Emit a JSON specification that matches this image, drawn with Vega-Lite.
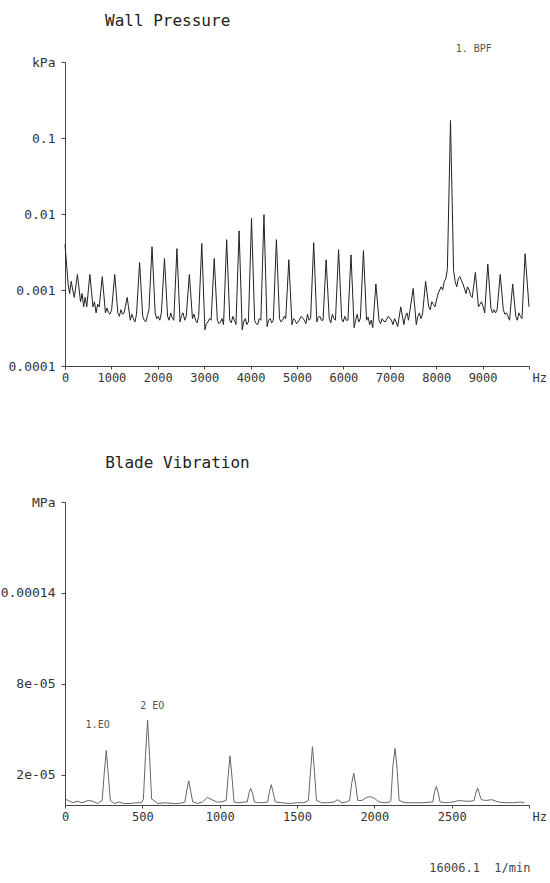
{
  "$schema": "https://vega.github.io/schema/vega-lite/v6.json",
  "padding": {"left": 0, "top": 12, "right": 0, "bottom": 0},
  "spacing": 72,
  "config": {
    "view": {"stroke": null},
    "font": "DejaVu Sans Mono",
    "axis": {
      "grid": false,
      "domainColor": "#444",
      "tickColor": "#444",
      "labelFont": "DejaVu Sans Mono",
      "labelFontSize": 12,
      "labelColor": "#333",
      "tickSize": 4,
      "labelPadding": 3,
      "labelOverlap": false,
      "labelFlush": false
    },
    "title": {"font": "DejaVu Sans Mono", "fontSize": 16, "fontWeight": "normal", "anchor": "start", "color": "#222"}
  },
  "datasets": {
    "wall": [
      {"f": 0, "p": 0.004}, {"f": 67, "p": 0.0012}, {"f": 100, "p": 0.0009}, {"f": 134, "p": 0.0013}, {"f": 167, "p": 0.001}, {"f": 201, "p": 0.0008},
      {"f": 268, "p": 0.0016}, {"f": 335, "p": 0.0007}, {"f": 368, "p": 0.0009}, {"f": 402, "p": 0.0006}, {"f": 435, "p": 0.0008}, {"f": 469, "p": 0.0006},
      {"f": 536, "p": 0.0016}, {"f": 603, "p": 0.0006}, {"f": 636, "p": 0.0007}, {"f": 670, "p": 0.0005}, {"f": 703, "p": 0.00065}, {"f": 737, "p": 0.0006},
      {"f": 804, "p": 0.0015}, {"f": 871, "p": 0.0005}, {"f": 904, "p": 0.00058}, {"f": 938, "p": 0.0005}, {"f": 971, "p": 0.00048}, {"f": 1005, "p": 0.00055},
      {"f": 1072, "p": 0.0016}, {"f": 1139, "p": 0.0005}, {"f": 1172, "p": 0.00045}, {"f": 1206, "p": 0.00055}, {"f": 1239, "p": 0.00048}, {"f": 1273, "p": 0.0005},
      {"f": 1340, "p": 0.0008}, {"f": 1407, "p": 0.0004}, {"f": 1440, "p": 0.00048}, {"f": 1474, "p": 0.00042}, {"f": 1507, "p": 0.00038}, {"f": 1541, "p": 0.00048},
      {"f": 1608, "p": 0.0023}, {"f": 1675, "p": 0.00045}, {"f": 1708, "p": 0.0004}, {"f": 1742, "p": 0.00038}, {"f": 1775, "p": 0.00046}, {"f": 1809, "p": 0.00055},
      {"f": 1876, "p": 0.0037}, {"f": 1943, "p": 0.0005}, {"f": 1976, "p": 0.00042}, {"f": 2010, "p": 0.00045}, {"f": 2043, "p": 0.0004}, {"f": 2077, "p": 0.0005},
      {"f": 2144, "p": 0.0026}, {"f": 2211, "p": 0.00045}, {"f": 2244, "p": 0.0004}, {"f": 2278, "p": 0.0005}, {"f": 2311, "p": 0.00043}, {"f": 2345, "p": 0.0004},
      {"f": 2412, "p": 0.0035}, {"f": 2479, "p": 0.00038}, {"f": 2512, "p": 0.00046}, {"f": 2546, "p": 0.0005}, {"f": 2579, "p": 0.0004}, {"f": 2613, "p": 0.00045},
      {"f": 2680, "p": 0.0016}, {"f": 2747, "p": 0.00042}, {"f": 2780, "p": 0.00048}, {"f": 2814, "p": 0.0004}, {"f": 2847, "p": 0.00037}, {"f": 2881, "p": 0.00045},
      {"f": 2948, "p": 0.0041}, {"f": 3015, "p": 0.0003}, {"f": 3048, "p": 0.00036}, {"f": 3082, "p": 0.00038}, {"f": 3115, "p": 0.00042}, {"f": 3149, "p": 0.0004},
      {"f": 3216, "p": 0.0026}, {"f": 3283, "p": 0.0004}, {"f": 3316, "p": 0.00036}, {"f": 3350, "p": 0.00038}, {"f": 3383, "p": 0.00042}, {"f": 3417, "p": 0.00035},
      {"f": 3484, "p": 0.0046}, {"f": 3551, "p": 0.0004}, {"f": 3584, "p": 0.00037}, {"f": 3618, "p": 0.00045}, {"f": 3651, "p": 0.0004}, {"f": 3685, "p": 0.00035},
      {"f": 3752, "p": 0.006}, {"f": 3819, "p": 0.0003}, {"f": 3852, "p": 0.00038}, {"f": 3886, "p": 0.00042}, {"f": 3919, "p": 0.00035}, {"f": 3953, "p": 0.00038},
      {"f": 4020, "p": 0.0088}, {"f": 4087, "p": 0.0004}, {"f": 4120, "p": 0.00036}, {"f": 4154, "p": 0.00035}, {"f": 4187, "p": 0.00042}, {"f": 4221, "p": 0.0004},
      {"f": 4288, "p": 0.0098}, {"f": 4355, "p": 0.00033}, {"f": 4388, "p": 0.0004}, {"f": 4422, "p": 0.00042}, {"f": 4455, "p": 0.00037}, {"f": 4489, "p": 0.0004},
      {"f": 4556, "p": 0.0046}, {"f": 4623, "p": 0.00042}, {"f": 4656, "p": 0.00038}, {"f": 4690, "p": 0.0004}, {"f": 4723, "p": 0.00045}, {"f": 4757, "p": 0.00042},
      {"f": 4824, "p": 0.0025}, {"f": 4891, "p": 0.00035}, {"f": 4924, "p": 0.00042}, {"f": 4958, "p": 0.0004}, {"f": 4991, "p": 0.00036}, {"f": 5025, "p": 0.00038},
      {"f": 5092, "p": 0.00045}, {"f": 5159, "p": 0.0004}, {"f": 5192, "p": 0.00036}, {"f": 5226, "p": 0.00048}, {"f": 5259, "p": 0.0004}, {"f": 5293, "p": 0.00042},
      {"f": 5360, "p": 0.0042}, {"f": 5427, "p": 0.00038}, {"f": 5460, "p": 0.00044}, {"f": 5494, "p": 0.00045}, {"f": 5527, "p": 0.0004}, {"f": 5561, "p": 0.0004},
      {"f": 5628, "p": 0.0025}, {"f": 5695, "p": 0.00042}, {"f": 5728, "p": 0.00037}, {"f": 5762, "p": 0.00048}, {"f": 5795, "p": 0.00042}, {"f": 5829, "p": 0.0004},
      {"f": 5896, "p": 0.0034}, {"f": 5963, "p": 0.00042}, {"f": 5996, "p": 0.00038}, {"f": 6030, "p": 0.00045}, {"f": 6063, "p": 0.0004}, {"f": 6097, "p": 0.0004},
      {"f": 6164, "p": 0.0029}, {"f": 6231, "p": 0.00032}, {"f": 6264, "p": 0.0004}, {"f": 6298, "p": 0.00048}, {"f": 6331, "p": 0.00038}, {"f": 6365, "p": 0.00042},
      {"f": 6432, "p": 0.0033}, {"f": 6499, "p": 0.0004}, {"f": 6532, "p": 0.00044}, {"f": 6566, "p": 0.00035}, {"f": 6599, "p": 0.0004}, {"f": 6633, "p": 0.00032},
      {"f": 6700, "p": 0.0012}, {"f": 6767, "p": 0.0004}, {"f": 6800, "p": 0.00036}, {"f": 6834, "p": 0.00042}, {"f": 6867, "p": 0.00039}, {"f": 6901, "p": 0.00038},
      {"f": 6968, "p": 0.00045}, {"f": 7035, "p": 0.0004}, {"f": 7068, "p": 0.00035}, {"f": 7102, "p": 0.00042}, {"f": 7135, "p": 0.00038}, {"f": 7169, "p": 0.00033},
      {"f": 7236, "p": 0.0006}, {"f": 7303, "p": 0.00035}, {"f": 7336, "p": 0.00045}, {"f": 7370, "p": 0.0005}, {"f": 7403, "p": 0.0004}, {"f": 7437, "p": 0.00055},
      {"f": 7504, "p": 0.00105}, {"f": 7571, "p": 0.00035}, {"f": 7604, "p": 0.00045}, {"f": 7638, "p": 0.0005}, {"f": 7671, "p": 0.00042}, {"f": 7705, "p": 0.00048},
      {"f": 7772, "p": 0.0013}, {"f": 7839, "p": 0.0006}, {"f": 7872, "p": 0.00055}, {"f": 7906, "p": 0.0007}, {"f": 7939, "p": 0.00065}, {"f": 7973, "p": 0.0006},
      {"f": 8040, "p": 0.0009}, {"f": 8107, "p": 0.0011}, {"f": 8140, "p": 0.001}, {"f": 8174, "p": 0.0013}, {"f": 8207, "p": 0.0014}, {"f": 8241, "p": 0.0019},
      {"f": 8308, "p": 0.17}, {"f": 8375, "p": 0.0018}, {"f": 8408, "p": 0.0013}, {"f": 8442, "p": 0.0011}, {"f": 8475, "p": 0.0014}, {"f": 8509, "p": 0.0015},
      {"f": 8576, "p": 0.0012}, {"f": 8643, "p": 0.0009}, {"f": 8676, "p": 0.0011}, {"f": 8710, "p": 0.001}, {"f": 8743, "p": 0.00085}, {"f": 8777, "p": 0.0008},
      {"f": 8844, "p": 0.0017}, {"f": 8911, "p": 0.0006}, {"f": 8944, "p": 0.00065}, {"f": 8978, "p": 0.0007}, {"f": 9011, "p": 0.0006}, {"f": 9045, "p": 0.0005},
      {"f": 9112, "p": 0.0022}, {"f": 9179, "p": 0.00058}, {"f": 9212, "p": 0.0005}, {"f": 9246, "p": 0.00055}, {"f": 9279, "p": 0.0005}, {"f": 9313, "p": 0.00055},
      {"f": 9380, "p": 0.0016}, {"f": 9447, "p": 0.00055}, {"f": 9480, "p": 0.00048}, {"f": 9514, "p": 0.0005}, {"f": 9547, "p": 0.00045}, {"f": 9581, "p": 0.0004},
      {"f": 9648, "p": 0.0012}, {"f": 9715, "p": 0.00045}, {"f": 9748, "p": 0.0004}, {"f": 9782, "p": 0.0005}, {"f": 9815, "p": 0.00045}, {"f": 9849, "p": 0.00042},
      {"f": 9916, "p": 0.003}, {"f": 10000, "p": 0.0006}
    ],
    "blade": [
      {"f": 0, "p": 0.000004}, {"f": 20, "p": 0.000003}, {"f": 50, "p": 0.0000015}, {"f": 80, "p": 0.0000025},
      {"f": 110, "p": 0.0000015}, {"f": 150, "p": 0.000003}, {"f": 180, "p": 0.0000025}, {"f": 210, "p": 0.000001},
      {"f": 240, "p": 0.000003}, {"f": 253, "p": 0.00002}, {"f": 267, "p": 0.000036}, {"f": 280, "p": 0.00002}, {"f": 293, "p": 0.000003},
      {"f": 320, "p": 0.000001}, {"f": 350, "p": 0.000002}, {"f": 380, "p": 0.000001}, {"f": 420, "p": 0.000001},
      {"f": 460, "p": 0.0000015}, {"f": 495, "p": 0.0000015},
      {"f": 507, "p": 0.000004}, {"f": 520, "p": 0.000032}, {"f": 534, "p": 0.000056}, {"f": 547, "p": 0.000032}, {"f": 560, "p": 0.000004},
      {"f": 600, "p": 0.000001}, {"f": 650, "p": 0.0000015}, {"f": 700, "p": 0.000001}, {"f": 740, "p": 0.000001},
      {"f": 775, "p": 0.000002}, {"f": 788, "p": 0.00001}, {"f": 800, "p": 0.000016}, {"f": 813, "p": 0.000009}, {"f": 826, "p": 0.000002},
      {"f": 860, "p": 0.000001}, {"f": 890, "p": 0.000002}, {"f": 920, "p": 0.000005}, {"f": 950, "p": 0.0000035},
      {"f": 980, "p": 0.000002}, {"f": 1010, "p": 0.000002},
      {"f": 1042, "p": 0.000003}, {"f": 1054, "p": 0.000018}, {"f": 1067, "p": 0.0000325}, {"f": 1080, "p": 0.000018}, {"f": 1093, "p": 0.000002},
      {"f": 1120, "p": 0.0000015}, {"f": 1160, "p": 0.000002},
      {"f": 1178, "p": 0.000002}, {"f": 1190, "p": 0.000008}, {"f": 1200, "p": 0.000011}, {"f": 1212, "p": 0.000008}, {"f": 1225, "p": 0.000002},
      {"f": 1250, "p": 0.0000015}, {"f": 1280, "p": 0.0000015},
      {"f": 1310, "p": 0.000002}, {"f": 1322, "p": 0.000009}, {"f": 1334, "p": 0.0000134}, {"f": 1346, "p": 0.000008}, {"f": 1360, "p": 0.000002},
      {"f": 1400, "p": 0.0000015}, {"f": 1450, "p": 0.000001}, {"f": 1500, "p": 0.0000015}, {"f": 1545, "p": 0.0000015},
      {"f": 1574, "p": 0.000003}, {"f": 1587, "p": 0.000022}, {"f": 1600, "p": 0.0000385}, {"f": 1613, "p": 0.000022}, {"f": 1626, "p": 0.000003},
      {"f": 1660, "p": 0.0000015}, {"f": 1700, "p": 0.0000015}, {"f": 1740, "p": 0.000002}, {"f": 1762, "p": 0.0000035},
      {"f": 1790, "p": 0.0000015}, {"f": 1820, "p": 0.000002},
      {"f": 1840, "p": 0.000003}, {"f": 1853, "p": 0.000014}, {"f": 1867, "p": 0.000021}, {"f": 1880, "p": 0.000013}, {"f": 1893, "p": 0.000003},
      {"f": 1920, "p": 0.000003}, {"f": 1950, "p": 0.000005}, {"f": 1975, "p": 0.0000055}, {"f": 2000, "p": 0.0000045},
      {"f": 2030, "p": 0.000002}, {"f": 2070, "p": 0.0000015}, {"f": 2100, "p": 0.000002},
      {"f": 2107, "p": 0.000003}, {"f": 2120, "p": 0.000026}, {"f": 2134, "p": 0.0000374}, {"f": 2147, "p": 0.000024}, {"f": 2160, "p": 0.000003},
      {"f": 2200, "p": 0.0000015}, {"f": 2260, "p": 0.0000015}, {"f": 2320, "p": 0.0000015}, {"f": 2370, "p": 0.000002},
      {"f": 2378, "p": 0.000002}, {"f": 2390, "p": 0.000009}, {"f": 2401, "p": 0.0000123}, {"f": 2413, "p": 0.000008}, {"f": 2425, "p": 0.000002},
      {"f": 2460, "p": 0.0000015}, {"f": 2510, "p": 0.000002}, {"f": 2550, "p": 0.000003}, {"f": 2590, "p": 0.0000025}, {"f": 2620, "p": 0.0000025},
      {"f": 2645, "p": 0.000003}, {"f": 2656, "p": 0.000008}, {"f": 2668, "p": 0.0000112}, {"f": 2680, "p": 0.000007}, {"f": 2692, "p": 0.0000035},
      {"f": 2720, "p": 0.000003}, {"f": 2760, "p": 0.0000035}, {"f": 2800, "p": 0.000002}, {"f": 2850, "p": 0.0000015},
      {"f": 2900, "p": 0.0000015}, {"f": 2940, "p": 0.000002}, {"f": 2970, "p": 0.0000015}
    ]
  },
  "vconcat": [
    {
      "title": {"text": "Wall Pressure", "dx": 97, "offset": 15},
      "width": 464,
      "height": 304,
      "layer": [
        {
          "data": {"name": "wall"},
          "mark": {"type": "line", "color": "#222", "strokeWidth": 1},
          "encoding": {
            "x": {
              "field": "f", "type": "quantitative",
              "scale": {"domain": [0, 10000], "nice": false, "zero": false},
              "axis": {
                "title": null,
                "values": [0, 1000, 2000, 3000, 4000, 5000, 6000, 7000, 8000, 9000, 10000],
                "format": "d",
                "tickSize": 3,
                "labelExpr": "datum.value >= 10000 ? 'Hz' : datum.label",
                "labelAlign": {"condition": {"test": "datum.value >= 10000", "value": "left"}, "value": "center"},
                "labelOffset": {"condition": {"test": "datum.value >= 10000", "value": 3}, "value": 0}
              }
            },
            "y": {
              "field": "p", "type": "quantitative",
              "scale": {"type": "log", "domain": [0.0001, 1], "nice": false},
              "axis": {
                "title": null,
                "values": [0.0001, 0.001, 0.01, 0.1, 1],
                "format": "~g",
                "labelFontSize": 13,
                "labelPadding": 6,
                "labelExpr": "datum.value >= 1 ? 'kPa' : datum.label"
              }
            }
          }
        },
        {
          "data": {"values": [{}]},
          "mark": {"type": "text", "text": "1. BPF", "align": "left", "fontSize": 10, "color": "#555", "font": "DejaVu Sans Mono"},
          "encoding": {"x": {"datum": 8420}, "y": {"datum": 1.5}}
        }
      ]
    },
    {
      "title": {"text": "Blade Vibration", "dx": 105, "offset": 25},
      "width": 464,
      "height": 303,
      "layer": [
        {
          "data": {"name": "blade"},
          "mark": {"type": "line", "color": "#666", "strokeWidth": 1},
          "encoding": {
            "x": {
              "field": "f", "type": "quantitative",
              "scale": {"domain": [0, 3000], "nice": false, "zero": false},
              "axis": {
                "values": [0, 500, 1000, 1500, 2000, 2500, 3000],
                "format": "d",
                "tickSize": 3,
                "labelExpr": "datum.value >= 3000 ? 'Hz' : datum.label",
                "labelAlign": {"condition": {"test": "datum.value >= 3000", "value": "left"}, "value": "center"},
                "labelOffset": {"condition": {"test": "datum.value >= 3000", "value": 3}, "value": 0},
                "title": "16006.1\u00a0\u00a01/min",
                "titleFont": "DejaVu Sans Mono",
                "titleFontSize": 12,
                "titleFontWeight": "normal",
                "titleColor": "#444",
                "titleX": 465,
                "titleY": 62,
                "titleAlign": "right",
                "titleBaseline": "middle"
              }
            },
            "y": {
              "field": "p", "type": "quantitative",
              "scale": {"domain": [0, 0.0002], "nice": false},
              "axis": {
                "title": null,
                "values": [0.00002, 0.00008, 0.00014, 0.0002],
                "labelFontSize": 13,
                "labelPadding": 6,
                "labelExpr": "datum.value > 0.00019 ? 'MPa' : (datum.value > 0.0001 ? '0.00014' : (datum.value > 0.00005 ? '8e-05' : '2e-05'))"
              }
            }
          }
        },
        {
          "data": {"values": [{}]},
          "mark": {"type": "text", "text": "1.EO", "align": "center", "fontSize": 10, "color": "#555", "font": "DejaVu Sans Mono"},
          "encoding": {"x": {"datum": 211}, "y": {"datum": 0.0000528}}
        },
        {
          "data": {"values": [{}]},
          "mark": {"type": "text", "text": "2 EO", "align": "center", "fontSize": 10, "color": "#555", "font": "DejaVu Sans Mono"},
          "encoding": {"x": {"datum": 564}, "y": {"datum": 0.0000653}}
        }
      ]
    }
  ]
}
